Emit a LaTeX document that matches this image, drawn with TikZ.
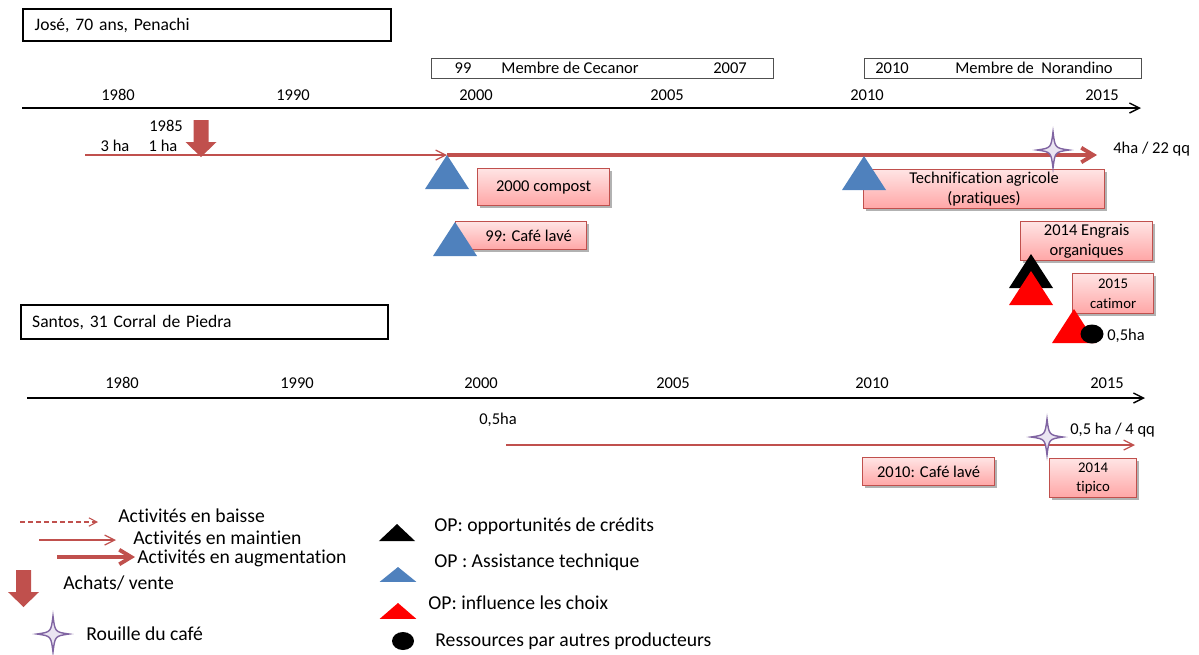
\documentclass[tikz,border=0pt]{standalone}
\usepackage{fontspec}
\setmainfont{Carlito}[Ligatures=NoCommon]
\usetikzlibrary{arrows.meta,positioning,shapes.geometric,shadows}
\definecolor{arrred}{RGB}{192,80,77}
\definecolor{opblue}{RGB}{79,129,189}
\definecolor{opred}{RGB}{255,0,0}
\definecolor{boxtop}{RGB}{255,228,228}
\definecolor{boxbot}{RGB}{255,166,166}
\definecolor{starfill}{RGB}{234,228,242}
\definecolor{starline}{RGB}{128,100,162}
\definecolor{membgray}{RGB}{80,80,80}

\tikzset{
  lbl/.style={font=\fontsize{9.4}{11}\selectfont, inner sep=0pt},
  leglbl/.style={font=\fontsize{11.2}{13}\selectfont, anchor=west, inner sep=0pt},
  titlebox/.style={draw, line width=1.4pt, anchor=north west, align=left, text width=6.9cm,
    font=\fontsize{10}{12}\selectfont, inner xsep=0.22cm, inner ysep=0pt},
  memberbox/.style={draw=membgray, line width=0.6pt, anchor=north west, inner sep=0pt, minimum height=0.4cm},
  pinkbox/.style={draw=arrred, line width=0.7pt, top color=boxtop, bottom color=boxbot,
    anchor=north west, align=center, inner sep=0pt, font=\fontsize{9.4}{11.5}\selectfont,
    drop shadow={shadow xshift=0.05cm, shadow yshift=-0.05cm, opacity=0.3, fill=black}},
  timeline/.style={line width=0.8pt, -{Straight Barb[length=2mm, width=2mm]}},
  baisse/.style={arrred, line width=0.6pt, dash pattern=on 1mm off 0.6mm, -{Straight Barb[length=1.6mm, width=1.7mm]}},
  maintien/.style={arrred, line width=0.7pt, -{Straight Barb[length=2mm, width=2mm]}},
  augment/.style={arrred, line width=2.2pt, -{Straight Barb[length=2.4mm, width=2.9mm]}},
  ressource/.style={ellipse, fill=black, inner sep=0pt, minimum width=0.46cm, minimum height=0.38cm},
  optri/.pic={\fill[#1] (0,0) -- (22,34) -- (-22,34) -- cycle;},
  rouille/.pic={\draw[starline, fill=starfill, line width=0.8pt]
    (0,-18) .. controls (2,-2) .. (16,0) .. controls (2,2) .. (0,18)
    .. controls (-2,2) .. (-16,0) .. controls (-2,-2) .. (0,-18) -- cycle;},
  achat/.pic={\fill[arrred] (-7.5,0) -- (7.5,0) -- (7.5,22) -- (15.5,22) -- (0,37)
    -- (-15.5,22) -- (-7.5,22) -- cycle;}
}

\begin{document}
\begin{tikzpicture}[x=0.02cm, y=-0.02cm]
  \useasboundingbox (0,0) rectangle (1199,654);

  % Jose
  \node[titlebox, minimum width=7.36cm, minimum height=0.64cm] (jose) at (22,8) {José, 70 ans, Penachi};

  \node[memberbox, minimum width=6.84cm] (cecanor) at (431,58) {};
  \node[lbl] (cec99) at (463,68) {99};
  \node[lbl] (cecnom) at (570,68) {Membre de Cecanor};
  \node[lbl] (cec07) at (730,68) {2007};
  \node[memberbox, minimum width=5.54cm] (norandino) at (864,58) {};
  \node[lbl] (nor10) at (892,68) {2010};
  \node[lbl] (nornom) at (1034,68) {Membre de\ \ Norandino};

  % Axe 1
  \coordinate (t1s) at (22,108);
  \coordinate (t1e) at (1141,108);
  \draw[timeline] (t1s) -- (t1e);
  \foreach \yr/\xx in {1980/118,1990/293,2000/476,2005/667,2010/867,2015/1102}
    \node[lbl] (ya\yr) at (\xx,95) {\yr};

  % Activites Jose
  \node[lbl] (j85) at (166,126) {1985};
  \node[lbl] (j3ha) at (115,146) {3 ha};
  \node[lbl] (j1ha) at (163,146) {1 ha};
  \coordinate (j0) at (85,155);
  \coordinate (j1) at (447,155);
  \coordinate (j2) at (1097,155);
  \draw[maintien] (j0) -- (j1);
  \draw[augment] (j1) -- (j2);
  \pic at (201,120) {achat};
  \node[lbl, anchor=west] (jfin) at (1113,149) {4ha / 22 qq};

  \node[pinkbox, minimum width=2.64cm, minimum height=0.74cm] (compost) at (477,168) {2000 compost};
  \node[pinkbox, minimum width=2.62cm, minimum height=0.56cm] (lave1) at (455,221) {\hspace*{0.3cm}99: Café lavé};
  \node[pinkbox, minimum width=4.82cm, minimum height=0.78cm] (technif) at (863,169) {Technification agricole\\(pratiques)};
  \node[pinkbox, minimum width=2.64cm, minimum height=0.78cm] (engrais) at (1020,221) {2014 Engrais\\organiques};
  \node[pinkbox, minimum width=1.62cm, minimum height=0.8cm, font=\fontsize{8.4}{11}\selectfont] (catimor) at (1072,273) {2015\\catimor};

  \pic at (447,155) {optri=opblue};
  \pic at (455,222) {optri=opblue};
  \pic at (864,156) {optri=opblue};
  \pic at (1031,254) {optri=black};
  \pic at (1031,271) {optri=opred};
  \pic at (1074,309) {optri=opred};
  \node[ressource] (res1) at (1092,334) {};
  \node[lbl, anchor=west] (res1ha) at (1107,336) {0,5ha};
  \pic at (1053,150) {rouille};

  % Santos
  \node[titlebox, minimum width=7.34cm, minimum height=0.68cm] (santos) at (20,304) {Santos, 31 Corral de Piedra};

  % Axe 2
  \coordinate (t2s) at (27,398);
  \coordinate (t2e) at (1145,398);
  \draw[timeline] (t2s) -- (t2e);
  \foreach \yr/\xx in {1980/122,1990/297,2000/481,2005/673,2010/872,2015/1107}
    \node[lbl] (yb\yr) at (\xx,383) {\yr};

  \node[lbl] (s05) at (498,420) {0,5ha};
  \coordinate (s0) at (506,445);
  \coordinate (s1) at (1135,445);
  \draw[maintien] (s0) -- (s1);
  \node[lbl, anchor=west] (sfin) at (1070,430) {0,5 ha / 4 qq};
  \node[pinkbox, minimum width=2.64cm, minimum height=0.56cm] (lave2) at (862,457) {2010: Café lavé};
  \node[pinkbox, minimum width=1.74cm, minimum height=0.78cm, font=\fontsize{8.4}{11}\selectfont] (tipico) at (1049,458) {2014\\tipico};
  \pic at (1047,437) {rouille};

  % Legende
  \coordinate (lb0) at (20,522);
  \coordinate (lb1) at (98,522);
  \draw[baisse] (lb0) -- (lb1);
  \node[leglbl] (lbaisse) at (118,516) {Activités en baisse};
  \coordinate (lm0) at (39,540);
  \coordinate (lm1) at (116,540);
  \draw[maintien] (lm0) -- (lm1);
  \node[leglbl] (lmaint) at (133,537.5) {Activités en maintien};
  \coordinate (la0) at (57,557);
  \coordinate (la1) at (135,557);
  \draw[augment] (la0) -- (la1);
  \node[leglbl] (laugm) at (137,558.5) {Activités en augmentation};
  \pic at (23.5,570) {achat};
  \node[leglbl] (lachat) at (63,583) {Achats/ vente};
  \pic at (53,634) {rouille};
  \node[leglbl] (lrouille) at (86,634) {Rouille du café};

  \pic[xscale=0.82, yscale=0.5] at (397,524) {optri=black};
  \node[leglbl] (lcredit) at (434,526) {OP: opportunités de crédits};
  \pic[xscale=0.84, yscale=0.44] at (398,567) {optri=opblue};
  \node[leglbl] (lassist) at (434,562) {OP : Assistance technique};
  \pic[xscale=0.84, yscale=0.47] at (398,603) {optri=opred};
  \node[leglbl] (lchoix) at (428,603) {OP: influence les choix};
  \node[ressource, minimum width=0.44cm, minimum height=0.36cm] (lres) at (403,641) {};
  \node[leglbl] (lresnom) at (435,641) {Ressources par autres producteurs};
\end{tikzpicture}
\end{document}
